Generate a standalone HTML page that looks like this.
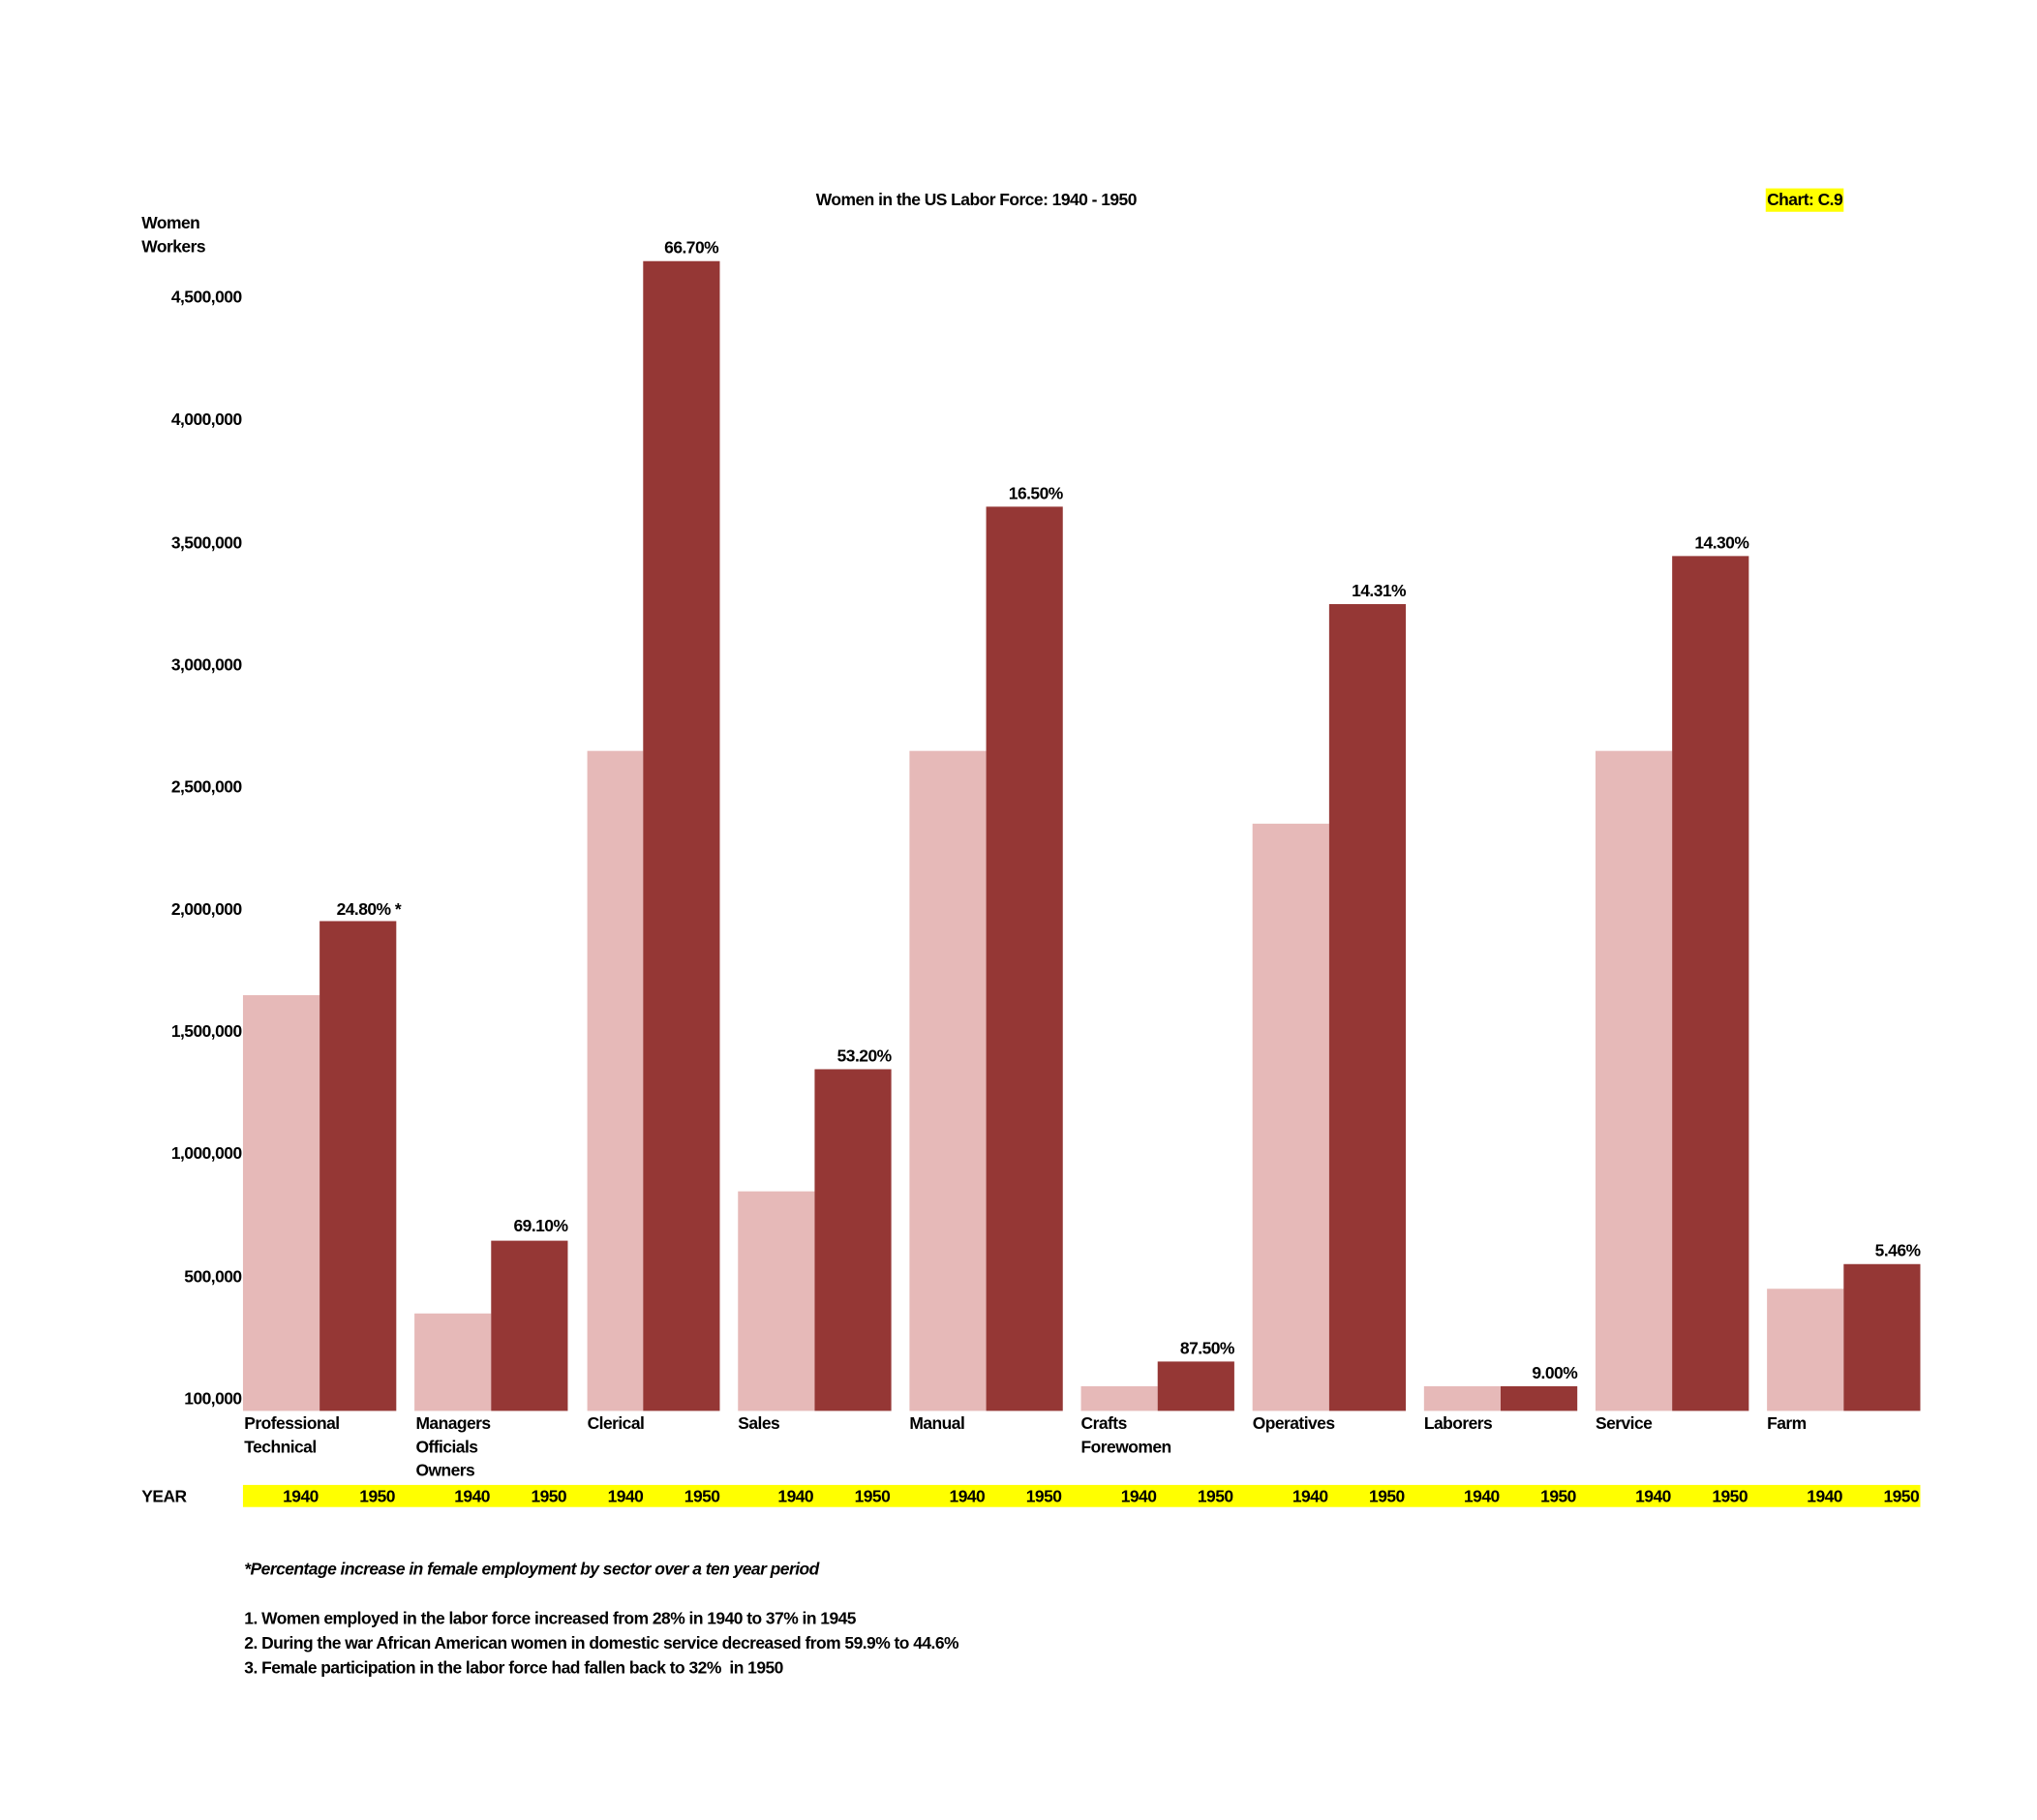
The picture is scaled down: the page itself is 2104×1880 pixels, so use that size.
<!DOCTYPE html>
<html><head><meta charset="utf-8"><style>
html,body{margin:0;padding:0;background:#fff;width:2104px;height:1880px;overflow:hidden}
#c{position:absolute;left:0;top:0;width:1560px;height:1394px;transform:scale(1.342);transform-origin:0 0;font-family:"Liberation Sans Narrow","Liberation Sans",sans-serif;font-weight:bold;font-size:13px;letter-spacing:-0.4px;color:#000}
.t{position:absolute;white-space:nowrap;line-height:18px}
.b{position:absolute;bottom:308px}
.l{background:#e6b9b8}.d{background:#953735}
.y{position:absolute;text-align:right;width:40px}
.r{position:absolute;text-align:right;width:100px;right:auto}
</style></head><body><div id="c">
<div class="t" style="left:628px;top:145px">Women in the US Labor Force: 1940 - 1950</div>
<div class="t" style="left:1359px;top:145px;background:#ffff00;padding:0 1px">Chart: C.9</div>
<div class="t" style="left:109px;top:163px">Women<br>Workers</div>

<div class="r t" style="left:86px;top:220px">4,500,000</div>
<div class="r t" style="left:86px;top:314px">4,000,000</div>
<div class="r t" style="left:86px;top:409px">3,500,000</div>
<div class="r t" style="left:86px;top:503px">3,000,000</div>
<div class="r t" style="left:86px;top:597px">2,500,000</div>
<div class="r t" style="left:86px;top:691px">2,000,000</div>
<div class="r t" style="left:86px;top:785px">1,500,000</div>
<div class="r t" style="left:86px;top:879px">1,000,000</div>
<div class="r t" style="left:86px;top:974px">500,000</div>
<div class="r t" style="left:86px;top:1068px">100,000</div>

<div class="b l" style="left:187px;width:59px;height:320px"></div>
<div class="b d" style="left:246px;width:59px;height:377px"></div>
<div class="b l" style="left:319px;width:59px;height:75px"></div>
<div class="b d" style="left:378px;width:59px;height:131px"></div>
<div class="b l" style="left:452px;width:43px;height:508px"></div>
<div class="b d" style="left:495px;width:59px;height:885px"></div>
<div class="b l" style="left:568px;width:59px;height:169px"></div>
<div class="b d" style="left:627px;width:59px;height:263px"></div>
<div class="b l" style="left:700px;width:59px;height:508px"></div>
<div class="b d" style="left:759px;width:59px;height:696px"></div>
<div class="b l" style="left:832px;width:59px;height:19px"></div>
<div class="b d" style="left:891px;width:59px;height:38px"></div>
<div class="b l" style="left:964px;width:59px;height:452px"></div>
<div class="b d" style="left:1023px;width:59px;height:621px"></div>
<div class="b l" style="left:1096px;width:59px;height:19px"></div>
<div class="b d" style="left:1155px;width:59px;height:19px"></div>
<div class="b l" style="left:1228px;width:59px;height:508px"></div>
<div class="b d" style="left:1287px;width:59px;height:658px"></div>
<div class="b l" style="left:1360px;width:59px;height:94px"></div>
<div class="b d" style="left:1419px;width:59px;height:113px"></div>

<div class="t" style="left:259px;top:691px">24.80% *</div>
<div class="r t" style="left:337px;top:935px">69.10%</div>
<div class="r t" style="left:453px;top:182px">66.70%</div>
<div class="r t" style="left:586px;top:804px">53.20%</div>
<div class="r t" style="left:718px;top:371px">16.50%</div>
<div class="r t" style="left:850px;top:1029px">87.50%</div>
<div class="r t" style="left:982px;top:446px">14.31%</div>
<div class="r t" style="left:1114px;top:1048px">9.00%</div>
<div class="r t" style="left:1246px;top:409px">14.30%</div>
<div class="r t" style="left:1378px;top:954px">5.46%</div>

<div class="t" style="left:188px;top:1087px">Professional<br>Technical</div>
<div class="t" style="left:320px;top:1087px">Managers<br>Officials<br>Owners</div>
<div class="t" style="left:452px;top:1087px">Clerical</div>
<div class="t" style="left:568px;top:1087px">Sales</div>
<div class="t" style="left:700px;top:1087px">Manual</div>
<div class="t" style="left:832px;top:1087px">Crafts<br>Forewomen</div>
<div class="t" style="left:964px;top:1087px">Operatives</div>
<div class="t" style="left:1096px;top:1087px">Laborers</div>
<div class="t" style="left:1228px;top:1087px">Service</div>
<div class="t" style="left:1360px;top:1087px">Farm</div>

<div class="t" style="left:109px;top:1143px">YEAR</div>
<div style="position:absolute;left:187px;top:1143px;width:1291px;height:17px;background:#ffff00"></div>
<div class="t y" style="left:205px;top:1143px">1940</div><div class="t y" style="left:264px;top:1143px">1950</div>
<div class="t y" style="left:337px;top:1143px">1940</div><div class="t y" style="left:396px;top:1143px">1950</div>
<div class="t y" style="left:455px;top:1143px">1940</div><div class="t y" style="left:514px;top:1143px">1950</div>
<div class="t y" style="left:586px;top:1143px">1940</div><div class="t y" style="left:645px;top:1143px">1950</div>
<div class="t y" style="left:718px;top:1143px">1940</div><div class="t y" style="left:777px;top:1143px">1950</div>
<div class="t y" style="left:850px;top:1143px">1940</div><div class="t y" style="left:909px;top:1143px">1950</div>
<div class="t y" style="left:982px;top:1143px">1940</div><div class="t y" style="left:1041px;top:1143px">1950</div>
<div class="t y" style="left:1114px;top:1143px">1940</div><div class="t y" style="left:1173px;top:1143px">1950</div>
<div class="t y" style="left:1246px;top:1143px">1940</div><div class="t y" style="left:1305px;top:1143px">1950</div>
<div class="t y" style="left:1378px;top:1143px">1940</div><div class="t y" style="left:1437px;top:1143px">1950</div>

<div class="t" style="left:188px;top:1199px;font-style:italic">*Percentage increase in female employment by sector over a ten year period</div>
<div class="t" style="left:188px;top:1237px">1. Women employed in the labor force increased from 28% in 1940 to 37% in 1945</div>
<div class="t" style="left:188px;top:1256px">2. During the war African American women in domestic service decreased from 59.9% to 44.6%</div>
<div class="t" style="left:188px;top:1275px">3. Female participation in the labor force had fallen back to 32%&nbsp; in 1950</div>
</div></body></html>
